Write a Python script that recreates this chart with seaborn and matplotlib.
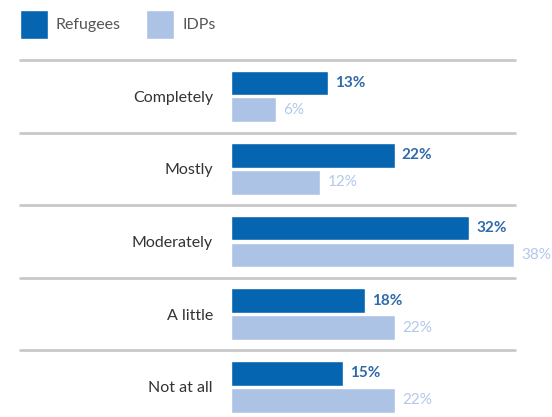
import pandas as pd
import matplotlib.pyplot as plt
import seaborn as sns

categories = ['Completely', 'Mostly', 'Moderately', 'A little', 'Not at all']
refugees = [13, 22, 32, 18, 15]
idps = [6, 12, 38, 22, 22]
groups = ['Refugees', 'IDPs']
colors = ['#0565b1', '#adc3e6']
label_colors = ['#2f6aab', '#b3c8ea']

df = pd.DataFrame({
    'answer': categories * 2,
    'share': refugees + idps,
    'group': ['Refugees'] * len(categories) + ['IDPs'] * len(categories),
})

sns.set_style('white')
plt.rcParams['font.family'] = ['Lato', 'DejaVu Sans']

fig = plt.figure(figsize=(5.52, 4.17), dpi=100)
ax = fig.add_axes([231 / 552, 0, 1 - 231 / 552, 1 - 60 / 417])

sns.barplot(data=df, y='answer', x='share', hue='group', order=categories,
            hue_order=groups, palette=colors, orient='h', width=0.74, gap=0.08,
            saturation=1, ax=ax)

ax.set_xlim(0, 321 / 7.45)
ax.set_ylim(4.417, -0.5)

for container, col, w in zip(ax.containers, label_colors, ['bold', 'normal']):
    ax.bar_label(container, labels=[f'{v:.0f}%' for v in container.datavalues],
                 padding=5, color=col, fontsize=11, fontweight=w)

for k in range(len(categories)):
    ax.axhline(k - 0.5, xmin=(20 - 231) / 321, xmax=(515 - 231) / 321,
               color='#c9c9c9', lw=2, clip_on=False)

ax.set_xlabel('')
ax.set_ylabel('')
ax.set_xticks([])
ax.tick_params(axis='y', length=0, pad=13, labelsize=11.5, labelcolor='#333333')
sns.despine(ax=ax, left=True, bottom=True)

sns.move_legend(ax, 'upper left', bbox_to_anchor=(20 / 552, 1 - 10 / 417),
                bbox_transform=fig.transFigure, ncol=2, frameon=False, title=None,
                fontsize=11.5, handlelength=1.75, handleheight=2.4, columnspacing=1.6,
                handletextpad=0.5, borderaxespad=0, borderpad=0)
for t in ax.get_legend().get_texts():
    t.set_color('#555555')

fig.savefig('out.png', dpi=100)
